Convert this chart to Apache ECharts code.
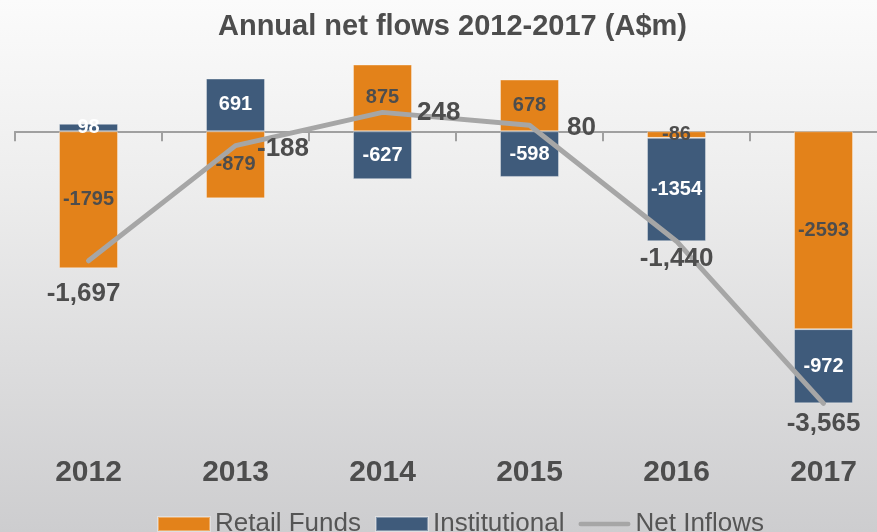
<!DOCTYPE html>
<html>
<head>
<meta charset="utf-8">
<script src="https://cdn.jsdelivr.net/npm/echarts@6/dist/echarts.min.js"></script>
<style>
html,body{margin:0;padding:0;}
#chart{width:877px;height:532px;background:linear-gradient(to bottom,#fbfbfb 0%,#ededed 35%,#cdcdcf 100%);}
</style>
</head>
<body>
<div id="chart"></div>
<script>
var years = ['2012', '2013', '2014', '2015', '2016', '2017'];
var retailFunds = [-1795, -879, 875, 678, -86, -2593];
var institutional = [98, 691, -627, -598, -1354, -972];
var netInflows = [-1697, -188, 248, 80, -1440, -3565];

var netLabelPos = [
  {position: 'bottom', distance: 20, offset: [-5, 0]},
  {position: 'right', distance: 21, offset: [0, 3]},
  {position: 'right', distance: 34},
  {position: 'right', distance: 37, offset: [0, 3]},
  {position: 'bottom', distance: 4},
  {position: 'bottom', distance: 7}
];

function fmt(v) {
  var s = Math.abs(v).toString().replace(/\B(?=(\d{3})+(?!\d))/g, ',');
  return (v < 0 ? '-' : '') + s;
}

var FONT = 'Liberation Sans, Arial, sans-serif';
var chart = echarts.init(document.getElementById('chart'));
var option = {
  backgroundColor: 'transparent',
  title: {
    text: 'Annual net flows 2012-2017 (A$m)',
    left: 218,
    top: 12,
    padding: 0,
    textStyle: {fontFamily: FONT, fontSize: 29, fontWeight: 'bold', color: '#4d4d4d'}
  },
  legend: {
    data: [
      {name: 'Retail Funds', icon: 'rect'},
      {name: 'Institutional', icon: 'rect'},
      {name: 'Net Inflows', icon: 'path://M2.5,0 H54.5 A2.5,2.5 0 0 1 54.5,5 H2.5 A2.5,2.5 0 0 1 2.5,0 Z', itemStyle: {color: '#a6a6a6', opacity: 1}}
    ],
    left: 157,
    top: 511,
    padding: 0,
    itemWidth: 52,
    itemHeight: 14,
    itemGap: 14,
    textStyle: {fontFamily: FONT, fontSize: 26, color: '#555555'}
  },
  grid: {left: 15, top: 55, width: 882, height: 381.5, outerBoundsMode: 'none', containLabel: false},
  xAxis: [
    {
      type: 'category',
      data: years,
      position: 'bottom',
      axisLine: {show: false, onZero: false},
      axisTick: {show: false},
      axisLabel: {margin: 21, fontFamily: FONT, fontSize: 30, fontWeight: 'bold', color: '#4d4d4d'}
    },
    {
      type: 'category',
      data: years,
      position: 'bottom',
      axisLine: {show: true, onZero: true, onZeroAxisIndex: 0, lineStyle: {color: '#a0a0a0', width: 2}},
      axisTick: {show: true, length: 10, lineStyle: {color: '#a0a0a0', width: 2}},
      axisLabel: {show: false}
    }
  ],
  yAxis: {
    type: 'value',
    min: -4000,
    max: 1000,
    show: false,
    splitLine: {show: false}
  },
  series: [
    {
      name: 'Retail Funds',
      type: 'bar',
      stack: 'flows',
      barWidth: 59,
      data: retailFunds,
      itemStyle: {color: '#e3821a', borderColor: 'rgba(255,255,255,0.35)', borderWidth: 1},
      label: {show: true, position: 'inside', fontFamily: FONT, fontSize: 20, fontWeight: 'bold', color: '#4d4d4d'}
    },
    {
      name: 'Institutional',
      type: 'bar',
      stack: 'flows',
      barWidth: 59,
      data: institutional,
      itemStyle: {color: '#3f5b7b', borderColor: 'rgba(255,255,255,0.35)', borderWidth: 1},
      label: {show: true, position: 'inside', fontFamily: FONT, fontSize: 20, fontWeight: 'bold', color: '#ffffff'}
    },
    {
      name: 'Net Inflows',
      type: 'line',
      symbol: 'circle',
      symbolSize: 1,
      showSymbol: true,
      z: 5,
      lineStyle: {color: '#a6a6a6', width: 5, cap: 'round'},
      itemStyle: {color: 'rgba(166,166,166,0)', borderWidth: 0},
      data: netInflows.map(function (v, i) {
        return {value: v, label: netLabelPos[i]};
      }),
      label: {
        show: true,
        fontFamily: FONT,
        fontSize: 26,
        fontWeight: 'bold',
        color: '#4d4d4d',
        formatter: function (p) { return fmt(p.value); }
      }
    }
  ]
};
chart.setOption(option);
</script>
</body>
</html>
